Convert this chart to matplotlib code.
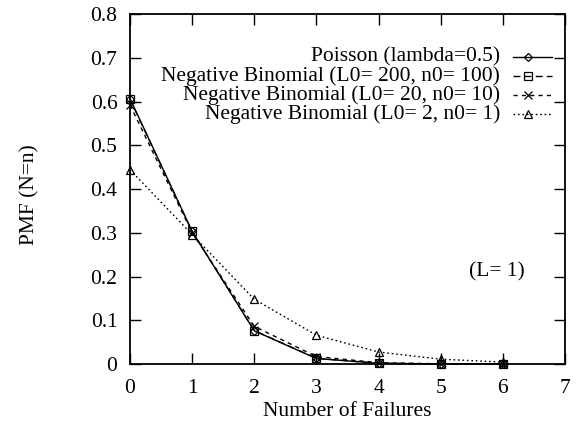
import numpy as np
import matplotlib
matplotlib.use('Agg')
import matplotlib.pyplot as plt
from matplotlib.lines import Line2D

plt.rcParams['font.family'] = ['Liberation Serif', 'DejaVu Serif']

###############################################################################
# Data
###############################################################################
failures = [0, 1, 2, 3, 4, 5, 6]
poisson = [0.6065, 0.3033, 0.0758, 0.0126, 0.0016, 0.0002, 0.0]
nb_200 = [0.605, 0.303, 0.0765, 0.0130, 0.0017, 0.0002, 0.0]
nb_20 = [0.592, 0.300, 0.0860, 0.0170, 0.0030, 0.0004, 0.0]
nb_2 = [0.444, 0.296, 0.148, 0.0658, 0.0274, 0.0110, 0.0043]
labels = [
    'Poisson (lambda=0.5)',
    'Negative Binomial (L0= 200, n0= 100)',
    'Negative Binomial (L0= 20, n0= 10)',
    'Negative Binomial (L0= 2, n0= 1)',
]
xticks = [0, 1, 2, 3, 4, 5, 6, 7]
yticks = [0, 0.1, 0.2, 0.3, 0.4, 0.5, 0.6, 0.7, 0.8]

###############################################################################
# Styles
###############################################################################
STYLES = [
    dict(ls='-', marker='D', ms=4.5),
    dict(ls=(0, (5, 3)), marker='s', ms=6),
    dict(ls=(0, (3, 3)), marker='x', ms=6),
    dict(ls=(0, (1.2, 2)), marker='^', ms=6),
]
FS = 15.5

fig = plt.figure(figsize=(5.77, 4.21), dpi=100)
ax = fig.add_axes([0.2253, 0.1354, 0.7537, 0.8313])

series = [poisson, nb_200, nb_20, nb_2]
for ys, st in zip(series, STYLES):
    ax.plot(
        failures, ys, color='black', lw=1.0, ls=st['ls'],
        marker=st['marker'], ms=st['ms'], mfc='none', mec='black', mew=0.9,
        clip_on=False, zorder=3
    )

# gnuplot style key: right-aligned text, sample line to the right -------------
key_y = [0.878, 0.822, 0.768, 0.713]
for lab, st, ky in zip(labels, STYLES, key_y):
    ax.text(
        0.851, ky, lab, transform=ax.transAxes,
        ha='right', va='center', fontsize=FS
    )
    ax.add_line(Line2D(
        [0.880, 0.970], [ky, ky], transform=ax.transAxes,
        color='black', lw=1.0, ls=st['ls']
    ))
    ax.add_line(Line2D(
        [0.915], [ky], transform=ax.transAxes, color='black', ls='none',
        marker=st['marker'], ms=st['ms'], mfc='none', mec='black', mew=0.9
    ))

ax.text(5.9, 0.21, '(L= 1)', ha='center', va='center', fontsize=FS)

ax.set_xlim(0, 7)
ax.set_ylim(0, 0.8)
ax.set_xticks(xticks)
ax.set_yticks(yticks)
ax.set_yticklabels(['0' if v == 0 else '{:.1f}'.format(v) for v in yticks])
ax.tick_params(
    direction='in', length=8, width=1.0, labelsize=FS,
    top=True, right=True
)
ax.tick_params(axis='y', pad=9)
ax.tick_params(axis='x', pad=11)
for sp in ax.spines.values():
    sp.set_linewidth(1.3)
ax.set_xlabel('Number of Failures', fontsize=FS, labelpad=3)
fig.text(
    30/577, 1-195/421, 'PMF (N=n)', rotation=90,
    ha='center', va='center', fontsize=FS
)

fig.savefig('out.png', dpi=100, facecolor='white')
plt.close('all')
